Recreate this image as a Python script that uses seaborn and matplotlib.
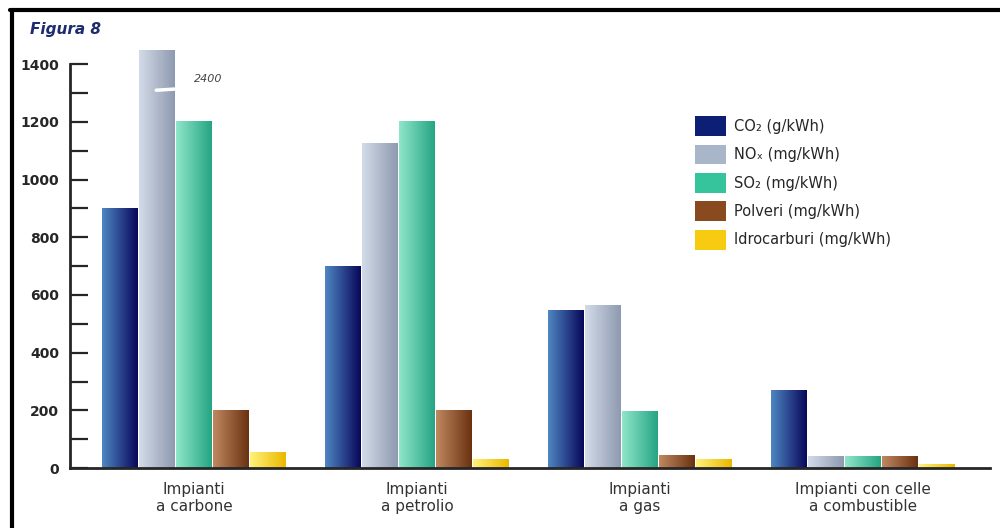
import pandas as pd
import numpy as np
import matplotlib
matplotlib.use("Agg")
import matplotlib.pyplot as plt
from matplotlib.colors import LinearSegmentedColormap
import seaborn as sns

# =============== DATA ===============
impianti = ["Impianti\na carbone", "Impianti\na petrolio", "Impianti\na gas",
            "Impianti con celle\na combustible"]
inquinanti = ["CO₂ (g/kWh)", "NOₓ (mg/kWh)", "SO₂ (mg/kWh)",
              "Polveri (mg/kWh)", "Idrocarburi (mg/kWh)"]
co2 = [900, 700, 545, 270]
nox = [2400, 1125, 565, 40]
so2 = [1200, 1200, 195, 40]
polveri = [200, 200, 42, 40]
idrocarburi = [55, 30, 30, 12]
colori = ["#0d1f75", "#a9b6c9", "#35c49c", "#8a4a20", "#f6cb10"]
# light (left) -> dark (right) shading of each bar
sfumature = [("#4f86c2", "#08085a"), ("#d3dbe8", "#8e9ab0"),
             ("#8fe6c8", "#25a584"), ("#c08860", "#6a3210"),
             ("#fff27a", "#eab800")]
Y_TOP = 1450

rows = []
for name, vals in zip(inquinanti, [co2, nox, so2, polveri, idrocarburi]):
    for imp, v in zip(impianti, vals):
        rows.append({"impianto": imp, "inquinante": name, "valore": v})
df = pd.DataFrame(rows)

# =============== PLOT ===============
sns.set_style("white")
fig = plt.figure(figsize=(10, 5.28), dpi=100)
ax = fig.add_axes([0.07, 0.1136, 0.92, 0.792])

sns.barplot(data=df, x="impianto", y="valore", hue="inquinante",
            palette=colori, width=0.83, gap=0.04, saturation=1,
            edgecolor="none", ax=ax, legend=True)

# gradient fill on top of each bar (cut at the top of the axis)
n = len(impianti)
for i, bar in enumerate(ax.patches[:n * len(inquinanti)]):
    c1, c2 = sfumature[i // n]
    cmap = LinearSegmentedColormap.from_list("g", [c1, c2])
    x0, y0 = bar.get_x(), bar.get_y()
    w, h = bar.get_width(), min(bar.get_height(), Y_TOP)
    im = ax.imshow(np.linspace(0, 1, 64).reshape(1, -1), cmap=cmap,
                   extent=[x0, x0 + w, y0, y0 + h], aspect="auto", zorder=2.5)
    bar.set_facecolor("none")

ax.set_ylim(0, Y_TOP)
ax.set_xlim(-0.557, 3.57)
ax.spines["left"].set_bounds(0, 1400)
ax.spines["left"].set_linewidth(2)
ax.spines["bottom"].set_linewidth(2)
ax.spines["bottom"].set_zorder(4)
for s in ["top", "right"]:
    ax.spines[s].set_visible(False)
ax.set_yticks(range(0, 1401, 200))
ax.set_yticks(range(100, 1400, 200), minor=True)
ax.tick_params(axis="y", which="both", direction="in", length=13, width=1.6,
               left=True, labelsize=10, pad=8)
ax.tick_params(axis="x", length=0, labelsize=11, pad=10, labelcolor="#333333")
for lab in ax.get_yticklabels():
    lab.set_fontweight("bold")
ax.set_xlabel("")
ax.set_ylabel("")

# axis break on the clipped NOx bar
ax.plot([-0.17, -0.005], [1310, 1318], color="white", lw=2.5, zorder=3)
ax.text(0.0, 1350, "2400", fontsize=8, style="italic", color="#444444",
        va="center", ha="left")

# legend
ax.legend(title=None, loc="upper left", bbox_to_anchor=(0.682, 0.805),
          bbox_transform=fig.transFigure, frameon=False, fontsize=10.5,
          handlelength=2.1, handleheight=1.7, labelspacing=0.6,
          handletextpad=0.6)

# frame and title
fig.add_artist(plt.Line2D([0.01, 1.0], [0.982, 0.982], color="black", lw=3,
                          transform=fig.transFigure))
fig.add_artist(plt.Line2D([0.012, 0.012], [0.0, 0.982], color="black", lw=3,
                          transform=fig.transFigure))
fig.text(0.03, 0.935, "Figura 8", fontsize=11, style="italic",
         fontweight="bold", color="#1c2c6e")

fig.savefig("out.png", dpi=100)
